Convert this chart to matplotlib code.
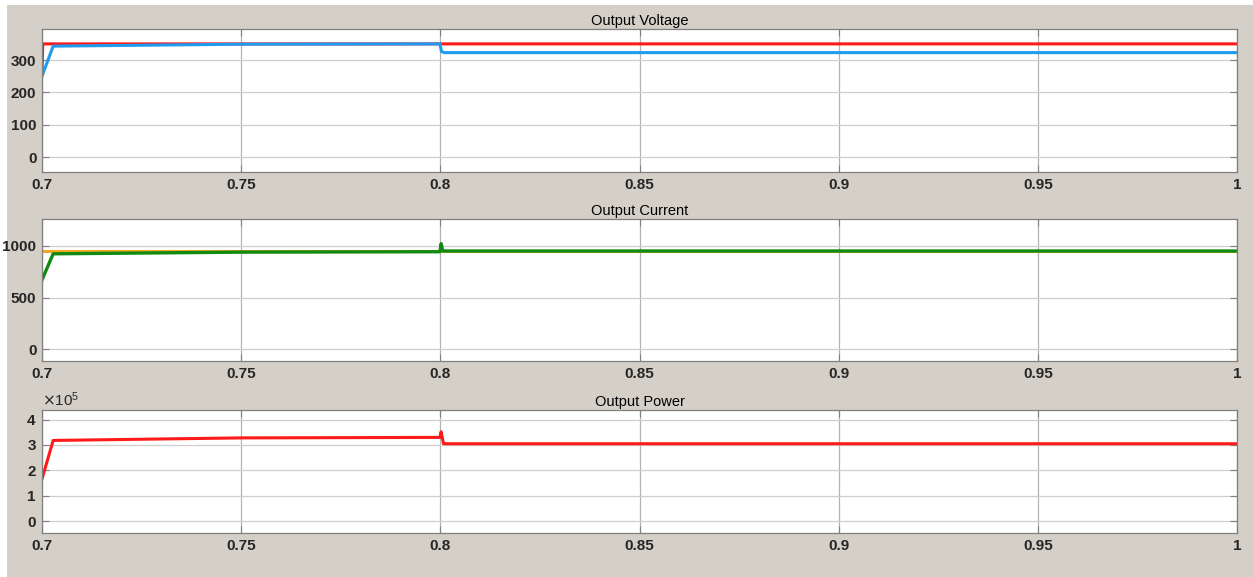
import matplotlib
matplotlib.use("Agg")
import matplotlib.pyplot as plt
from matplotlib.patches import Rectangle
from matplotlib.ticker import ScalarFormatter

plt.rcParams['font.family'] = ['Liberation Sans', 'DejaVu Sans']

# values
x_ticks = [0.7, 0.75, 0.8, 0.85, 0.9, 0.95, 1.0]
x_labels = ['0.7', '0.75', '0.8', '0.85', '0.9', '0.95', '1']

t_vref = [0.7, 0.7002, 1.0]
v_ref = [265, 350, 350]
t_vout = [0.7, 0.7028, 0.75, 0.7999, 0.8003, 0.801, 1.0]
v_out = [250, 343, 349, 350, 326, 323, 323]

t_iref = [0.7, 1.0]
i_ref = [949, 949]
t_iout = [0.7, 0.7028, 0.75, 0.7999, 0.8002, 0.8006, 1.0]
i_out = [670, 922, 938, 942, 1020, 949, 949]

t_p = [0.7, 0.7028, 0.75, 0.7999, 0.8002, 0.8008, 1.0]
p_out = [1.66e5, 3.18e5, 3.28e5, 3.30e5, 3.52e5, 3.05e5, 3.05e5]

W, H = 1253, 577
fig = plt.figure(figsize=(W / 100, H / 100), dpi=100, facecolor='white')
fig.patches.append(Rectangle((7 / W, 0), 1 - 7 / W, 1 - 5 / H, transform=fig.transFigure,
                             facecolor='#d4d0c8', edgecolor='none', zorder=-10))

def box(top, bottom):
    return [42 / W, (H - bottom) / H, 1195 / W, (bottom - top) / H]

ax1 = fig.add_axes(box(29, 172))
ax2 = fig.add_axes(box(219, 361))
ax3 = fig.add_axes(box(410, 533))

ax1.plot(t_vref, v_ref, color='#ff1a1a', lw=2.2)
ax1.plot(t_vout, v_out, color='#1f9cf0', lw=2.2)
ax1.set_ylim(-46, 396)
ax1.set_yticks([0, 100, 200, 300])
ax1.set_title('Output Voltage', fontsize=10.5, pad=3)

ax2.plot(t_iref, i_ref, color='#f5a623', lw=2.2)
ax2.plot(t_iout, i_out, color='#118a11', lw=2.4)
ax2.set_ylim(-113, 1258)
ax2.set_yticks([0, 500, 1000])
ax2.set_title('Output Current', fontsize=10.5, pad=3)

ax3.plot(t_p, p_out, color='#ff1a1a', lw=2.2)
ax3.set_ylim(-0.47e5, 4.38e5)
ax3.set_yticks([0, 1e5, 2e5, 3e5, 4e5])
fmt = ScalarFormatter(useMathText=True)
fmt.set_powerlimits((0, 0))
ax3.yaxis.set_major_formatter(fmt)
ax3.yaxis.get_offset_text().set_fontsize(11)
ax3.yaxis.get_offset_text().set_color('#262626')
ax3.set_title('Output Power', fontsize=10.5, pad=3)

for ax in (ax1, ax2, ax3):
    ax.set_xlim(0.7, 1.0)
    ax.set_xticks(x_ticks)
    ax.set_xticklabels(x_labels)
    ax.set_facecolor('white')
    ax.grid(True, axis='x', color='#b4b4b4', lw=0.9)
    ax.grid(True, axis='y', color='#cfcfcf', lw=0.9)
    ax.set_axisbelow(True)
    for s in ax.spines.values():
        s.set_color('#808080')
        s.set_linewidth(0.9)
    ax.tick_params(direction='in', length=5, color='#808080', top=True, right=True,
                   labelsize=11, labelcolor='#262626', pad=4)
    for lab in ax.get_xticklabels() + ax.get_yticklabels():
        lab.set_fontweight('bold')

fig.savefig('out.png', dpi=100, facecolor=fig.get_facecolor())
